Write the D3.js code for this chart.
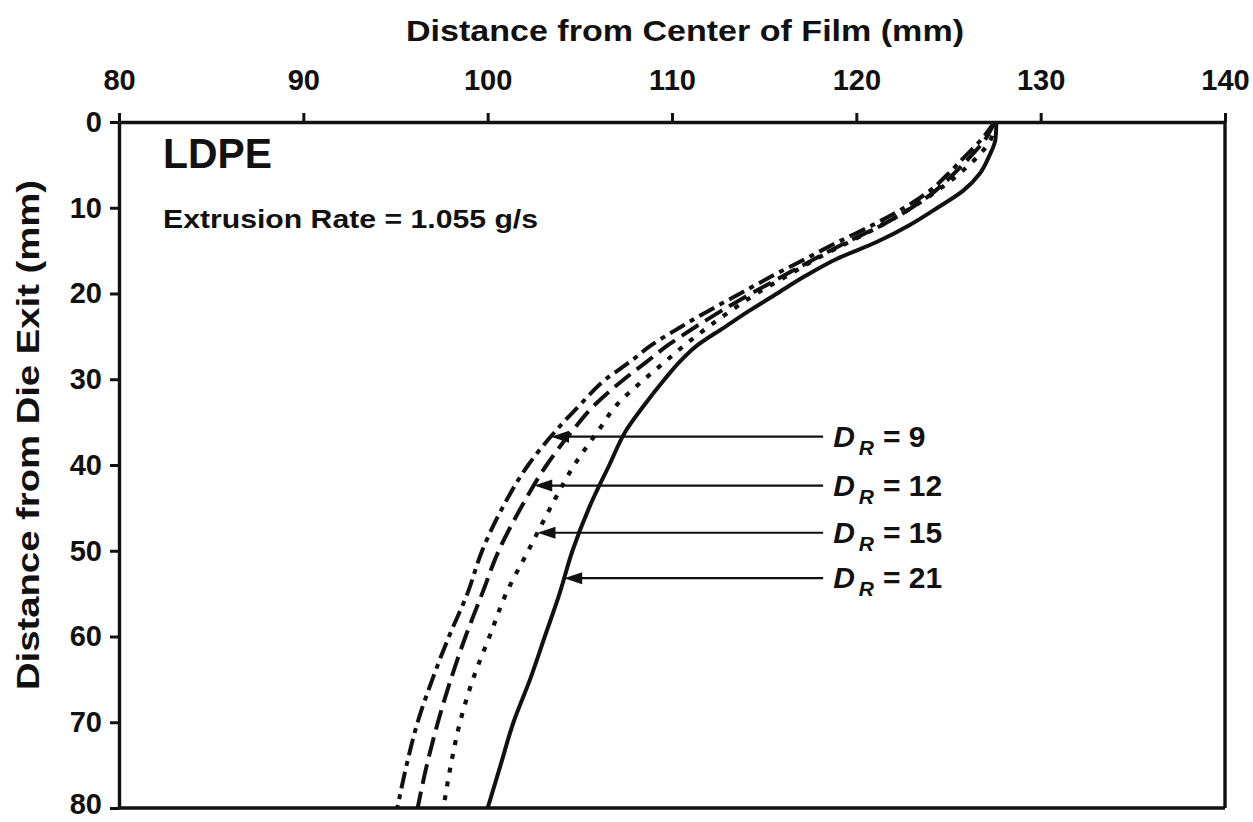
<!DOCTYPE html>
<html>
<head>
<meta charset="utf-8">
<script src="https://cdn.jsdelivr.net/npm/d3@7/dist/d3.min.js"></script>
<style>
  html, body { margin: 0; padding: 0; background: #fff; }
  svg { display: block; }
  text { font-family: "Liberation Sans", Arial, Helvetica, sans-serif; font-weight: bold; fill: #111; }
</style>
</head>
<body>
<svg id="chart" width="1253" height="822"></svg>
<script>
// Bubble profile: distance from die exit (mm) vs. radial distance from film centre (mm)
const depth = [0, 2, 4, 6, 8, 10, 12, 14, 16, 18, 20, 22, 24, 26, 28, 30, 33, 36, 40, 45, 50, 55, 60, 65, 70, 75, 80];

const radiusDR9  = [127.5, 126.8, 125.9, 125.0, 124.0, 122.6, 120.9, 119.0, 117.2, 115.4, 113.7, 112.0, 110.4, 108.9, 107.7, 106.4, 105.0, 103.7, 102.2, 100.8, 99.7, 98.9, 97.9, 97.0, 96.2, 95.6, 95.1];
const radiusDR12 = [127.5, 127.0, 126.2, 125.3, 124.3, 123.0, 121.4, 119.5, 117.7, 116.0, 114.3, 112.7, 111.2, 109.8, 108.6, 107.4, 105.8, 104.6, 103.2, 101.8, 100.6, 99.7, 98.8, 98.0, 97.3, 96.7, 96.2];
const radiusDR15 = [127.5, 127.3, 126.6, 125.6, 124.4, 123.0, 121.4, 119.6, 117.8, 116.2, 114.6, 113.2, 111.9, 110.7, 109.6, 108.5, 107.0, 106.0, 104.7, 103.4, 102.2, 101.0, 100.1, 99.2, 98.5, 98.0, 97.6];
const radiusDR21 = [127.6, 127.55, 127.2, 126.7, 125.8, 124.4, 122.9, 121.1, 118.9, 117.2, 115.7, 114.2, 112.8, 111.4, 110.4, 109.6, 108.5, 107.5, 106.6, 105.5, 104.6, 103.9, 103.1, 102.3, 101.4, 100.7, 100.0];

const drawRatios = ["9", "12", "15", "21"];
const labelDepth = [36.7, 42.4, 47.9, 53.2];   // depth at which each label arrow points at its curve

const xTicks = [80, 90, 100, 110, 120, 130, 140];
const yTicks = [0, 10, 20, 30, 40, 50, 60, 70, 80];

const xTitle = "Distance from Center of Film (mm)";
const yTitle = "Distance from Die Exit (mm)";
const material = "LDPE";
const rateNote = "Extrusion Rate = 1.055 g/s";

const svg = d3.select("#chart");
const W = 1253, H = 822;
const m = { left: 119, right: 28, top: 122, bottom: 14 };

const x = d3.scaleLinear().domain([80, 140]).range([m.left, W - m.right]);
const y = d3.scaleLinear().domain([0, 80]).range([m.top, H - m.bottom]);

const ink = "#111";

// axes
const gx = svg.append("g").attr("transform", `translate(0,${m.top})`)
  .call(d3.axisTop(x).tickValues(xTicks).tickSize(9).tickSizeOuter(0).tickPadding(23));
const gy = svg.append("g").attr("transform", `translate(${m.left},0)`)
  .call(d3.axisLeft(y).tickValues(yTicks).tickSize(9).tickSizeOuter(0).tickPadding(8));
[gx, gy].forEach(g => {
  g.select(".domain").attr("stroke", ink).attr("stroke-width", 3.4);
  g.selectAll(".tick line").attr("stroke", ink).attr("stroke-width", 3);
  g.selectAll(".tick text").style("font-size", "29px").attr("fill", ink);
});
// keep the lowest depth label inside the page
gy.selectAll(".tick text").filter(d => d === 80).attr("dy", "0.2em");

// right and bottom frame
svg.append("line").attr("x1", x(140)).attr("x2", x(140)).attr("y1", y(0)).attr("y2", y(80))
  .attr("stroke", ink).attr("stroke-width", 3.4);
svg.append("line").attr("x1", x(80)).attr("x2", x(140)).attr("y1", y(80)).attr("y2", y(80))
  .attr("stroke", ink).attr("stroke-width", 3.4);

// axis titles
svg.append("text").attr("x", (x(80) + x(140)) / 2 + 13).attr("y", 41)
  .attr("text-anchor", "middle").style("font-size", "30px")
  .attr("textLength", 558).attr("lengthAdjust", "spacingAndGlyphs").text(xTitle);
svg.append("text").attr("transform", "translate(39,435) rotate(-90)")
  .attr("text-anchor", "middle").style("font-size", "31px")
  .attr("textLength", 510).attr("lengthAdjust", "spacingAndGlyphs").text(yTitle);

// in-plot notes
svg.append("text").attr("x", 163).attr("y", 168).style("font-size", "43px")
  .attr("textLength", 109).attr("lengthAdjust", "spacingAndGlyphs").text(material);
svg.append("text").attr("x", 163).attr("y", 228).style("font-size", "26px")
  .attr("textLength", 375).attr("lengthAdjust", "spacingAndGlyphs").text(rateNote);

// profiles
const series = [
  { name: "9",  r: radiusDR9,  dash: "17,6,5,6", w: 4 },
  { name: "12", r: radiusDR12, dash: "20,8",     w: 4 },
  { name: "15", r: radiusDR15, dash: "5,9",      w: 4.2 },
  { name: "21", r: radiusDR21, dash: null,       w: 4 }
];
const line = d3.line().x(d => x(d[0])).y(d => y(d[1])).curve(d3.curveMonotoneY);

series.forEach(s => {
  const pts = s.r.map((v, i) => [v, depth[i]]);
  svg.append("path").datum(pts)
    .attr("d", line)
    .attr("fill", "none").attr("stroke", ink)
    .attr("stroke-width", s.w)
    .attr("stroke-dasharray", s.dash)
    .attr("stroke-linejoin", "round");
});

// radius of a profile at a given depth (linear between readings)
function radiusAt(r, d) {
  const i = d3.bisectRight(depth, d) - 1;
  const t = (d - depth[i]) / (depth[i + 1] - depth[i]);
  return r[i] + t * (r[i + 1] - r[i]);
}

// label arrows
const labelX = 118.2;
series.forEach((s, k) => {
  const d = labelDepth[k];
  const tip = radiusAt(s.r, d);
  const ty = y(d), tx = x(tip);
  svg.append("line").attr("x1", x(labelX)).attr("x2", tx + 12).attr("y1", ty).attr("y2", ty)
    .attr("stroke", ink).attr("stroke-width", 2.2);
  svg.append("path")
    .attr("d", `M${tx},${ty} L${tx + 18},${ty - 6} L${tx + 18},${ty + 6} Z`)
    .attr("fill", ink);
  const t = svg.append("text").attr("x", x(labelX) + 10).attr("y", ty + 10).style("font-size", "30px");
  t.append("tspan").style("font-style", "italic").text("D");
  t.append("tspan").style("font-style", "italic").style("font-size", "21px").attr("dy", 8).attr("dx", 4).text("R");
  t.append("tspan").attr("dy", -8).attr("dx", 9).text("= " + drawRatios[k]);
});
</script>
</body>
</html>
